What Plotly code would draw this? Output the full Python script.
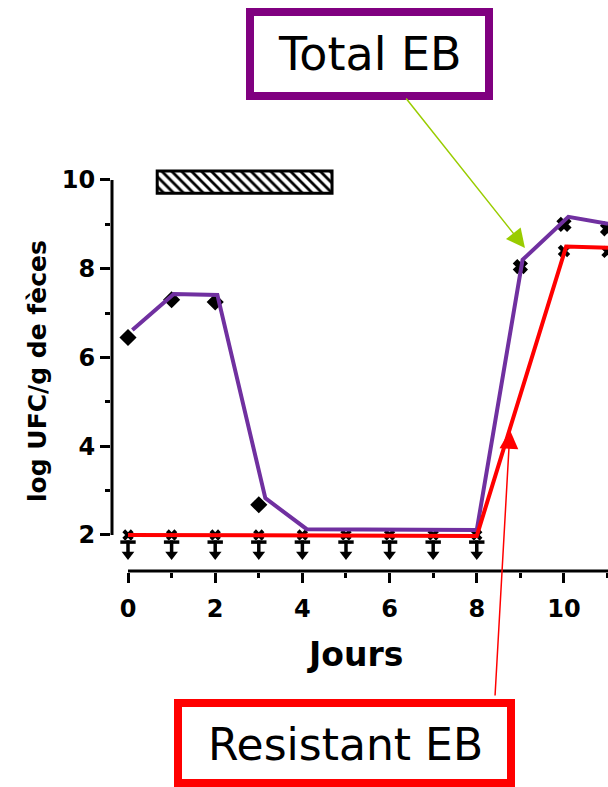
import plotly.graph_objects as go

# ---------------- data ----------------
total_days = [0, 1, 2, 3, 9, 10, 11]
total_values = [6.45, 7.3, 7.25, 2.68, 8.05, 9.0, 8.9]
total_symbols = ["diamond", "diamond", "diamond", "diamond", "x", "x", "x"]

total_line_x = [0.1, 1.05, 2.05, 3.15, 4.1, 8.0, 9.05, 10.1, 11.01]
total_line_y = [6.62, 7.43, 7.41, 2.83, 2.13, 2.11, 8.2, 9.17, 9.01]

resistant_days = [10, 11]
resistant_values = [8.4, 8.38]
resistant_line_x = [0, 8.0, 10.05, 11.01]
resistant_line_y = [2.0, 1.98, 8.5, 8.47]

below_days = [0, 1, 2, 3, 4, 5, 6, 7, 8]
detection_limit = 2.0

treatment_start, treatment_end, treatment_y = 0.67, 4.68, 9.95

x_ticks = [0, 2, 4, 6, 8, 10]
x_minor = [1, 3, 5, 7, 9, 11]
y_ticks = [2, 4, 6, 8, 10]
y_minor = [3, 5, 7, 9]

# ---------------- layout helpers ----------------
W, H = 608, 787
L, R, T, B = 111, 0, 160, 215
PW, PH = W - L - R, H - T - B


def px(x):
    return (x - L) / PW


def py(y):
    return (H - B - y) / PH


fig = go.Figure()

# treatment bar (hatched)
fig.add_trace(go.Bar(
    x=[treatment_end - treatment_start], base=[treatment_start], y=[treatment_y],
    orientation="h", width=[0.5],
    marker=dict(color="white", line=dict(color="black", width=3),
                pattern=dict(shape="\\", fgcolor="black", bgcolor="white",
                             size=7, solidity=0.4, fillmode="replace")),
    showlegend=False, hoverinfo="skip"))

# below-detection markers
fig.add_trace(go.Scatter(x=below_days, y=[detection_limit] * len(below_days), mode="markers",
                         marker=dict(symbol="x", size=10, color="black"), showlegend=False))
fig.add_trace(go.Scatter(x=below_days, y=[detection_limit - 0.16] * len(below_days), mode="markers",
                         marker=dict(symbol="line-ew", size=11, line=dict(color="black", width=3.5)),
                         showlegend=False))
fig.add_trace(go.Scatter(x=below_days, y=[detection_limit - 0.31] * len(below_days), mode="markers",
                         marker=dict(symbol="line-ns", size=12, line=dict(color="black", width=3.5)),
                         showlegend=False))
fig.add_trace(go.Scatter(x=below_days, y=[detection_limit - 0.44] * len(below_days), mode="markers",
                         marker=dict(symbol="triangle-down", size=11, color="black"),
                         showlegend=False))

# measured markers
fig.add_trace(go.Scatter(x=total_days, y=total_values, mode="markers",
                         marker=dict(symbol=total_symbols, size=11, color="black",
                                     line=dict(color="black", width=2)),
                         showlegend=False))
fig.add_trace(go.Scatter(x=resistant_days, y=resistant_values, mode="markers",
                         marker=dict(symbol="x", size=11, color="black"), showlegend=False))

# lines
fig.add_trace(go.Scatter(x=total_line_x, y=total_line_y, mode="lines",
                         line=dict(color="#7030A0", width=4), showlegend=False))
fig.add_trace(go.Scatter(x=resistant_line_x, y=resistant_line_y, mode="lines",
                         line=dict(color="#FF0000", width=4), showlegend=False))

tick_font = dict(family="DejaVu Sans", size=24, color="black", weight="bold")

fig.update_layout(
    width=W, height=H,
    margin=dict(l=L, r=R, t=T, b=B, pad=0),
    paper_bgcolor="white", plot_bgcolor="white",
    xaxis=dict(range=[-0.39, 11.01], showgrid=False, zeroline=False, showline=False,
               tickmode="array", tickvals=x_ticks, ticks="outside", ticklen=10,
               tickwidth=3, tickcolor="black", tickfont=tick_font, ticklabelstandoff=5,
               minor=dict(tickmode="array", tickvals=x_minor, ticks="outside", ticklen=5,
                          tickwidth=3, tickcolor="black")),
    yaxis=dict(range=[1.166, 10.45], showgrid=False, zeroline=False, showline=False,
               tickmode="array", tickvals=y_ticks, ticks="outside", ticklen=10,
               tickwidth=3, tickcolor="black", tickfont=tick_font, ticklabelstandoff=0,
               minor=dict(tickmode="array", tickvals=y_minor, ticks="outside", ticklen=5,
                          tickwidth=3, tickcolor="black")),
    shapes=[
        dict(type="line", xref="paper", yref="y", x0=px(112), x1=px(112), y0=2, y1=10,
             line=dict(color="black", width=3)),
        dict(type="line", xref="x", yref="paper", x0=0, x1=11.01, y0=py(571), y1=py(571),
             line=dict(color="black", width=3)),
        dict(type="rect", xref="paper", yref="paper", x0=px(250), x1=px(489), y0=py(12), y1=py(96),
             line=dict(color="#800080", width=8), fillcolor="white", layer="above"),
        dict(type="rect", xref="paper", yref="paper", x0=px(178), x1=px(511), y0=py(703), y1=py(783),
             line=dict(color="#FF0000", width=8), fillcolor="white", layer="above"),
    ],
    annotations=[
        dict(text="log UFC/g de fèces", xref="paper", yref="paper", x=px(37), y=py(371),
             xanchor="center", yanchor="middle", textangle=-90, showarrow=False,
             font=dict(family="DejaVu Sans", size=25, color="black", weight="bold")),
        dict(text="Jours", xref="paper", yref="paper", x=px(355), y=py(654),
             xanchor="center", yanchor="middle", showarrow=False,
             font=dict(family="DejaVu Sans", size=33, color="black", weight="bold")),
        dict(text="Total EB", xref="paper", yref="paper", x=px(370), y=py(54),
             xanchor="center", yanchor="middle", showarrow=False,
             font=dict(family="DejaVu Sans", size=46, color="black")),
        dict(text="Resistant EB", xref="paper", yref="paper", x=px(345), y=py(744),
             xanchor="center", yanchor="middle", showarrow=False,
             font=dict(family="DejaVu Sans", size=44, color="black")),
        dict(text="", x=(525 - 128) / 43.6, y=2 + (535 - 248) / 44.375, xref="x", yref="y",
             ax=405 - 525, ay=97 - 248, showarrow=True, arrowhead=2, arrowsize=2.5,
             arrowwidth=1.5, arrowcolor="#99CC00", standoff=0, startstandoff=0),
        dict(text="", x=(510 - 128) / 43.6, y=2 + (535 - 430) / 44.375, xref="x", yref="y",
             ax=495 - 510, ay=697 - 430, showarrow=True, arrowhead=2, arrowsize=2.5,
             arrowwidth=1.5, arrowcolor="#FF0000", standoff=0, startstandoff=0),
    ],
)

fig.write_html("out.html")
